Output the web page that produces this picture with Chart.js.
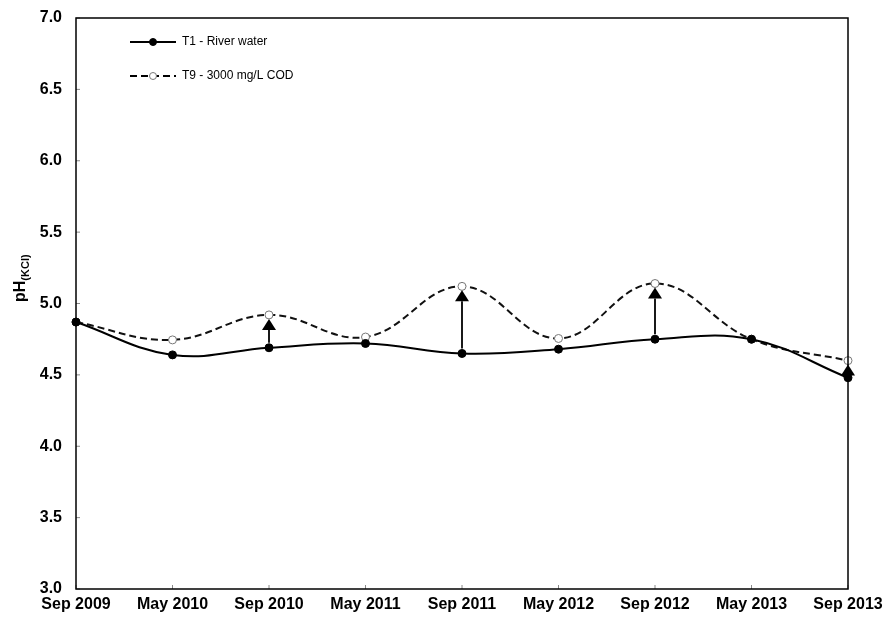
<!DOCTYPE html>
<html>
<head>
<meta charset="utf-8">
<script src="https://cdn.jsdelivr.net/npm/chart.js@4.4.1/dist/chart.umd.min.js"></script>
<style>
  html, body { margin: 0; padding: 0; background: #fff; }
  #wrap { width: 884px; height: 617px; position: relative; }
</style>
</head>
<body>
<div id="wrap"><canvas id="phChart"></canvas></div>
<script>
const labels = ['Sep 2009', 'May 2010', 'Sep 2010', 'May 2011', 'Sep 2011', 'May 2012', 'Sep 2012', 'May 2013', 'Sep 2013'];
const riverWater = [4.87, 4.64, 4.69, 4.72, 4.65, 4.68, 4.75, 4.75, 4.48];
const cod3000 = [4.87, 4.745, 4.92, 4.765, 5.12, 4.755, 5.14, 4.75, 4.60];
// categories where an arrow marks the rise from T1 to T9
const arrowAt = ['Sep 2010', 'Sep 2011', 'Sep 2012', 'Sep 2013'];
const yTicks = [3.0, 3.5, 4.0, 4.5, 5.0, 5.5, 6.0, 6.5, 7.0];

const FONT = 'Arial, "Liberation Sans", sans-serif';

// box, inner ticks, arrows, legend and axis title
const decorations = {
    id: 'decorations',
    afterDatasetsDraw(chart) {
        const { ctx, chartArea: a, scales } = chart;
        const x = scales.x, y = scales.y;
        ctx.save();

        // inner ticks
        ctx.strokeStyle = '#888';
        ctx.lineWidth = 1;
        yTicks.forEach(v => {
            const py = y.getPixelForValue(v);
            ctx.beginPath(); ctx.moveTo(a.left, py); ctx.lineTo(a.left + 4, py); ctx.stroke();
        });
        labels.forEach((l, i) => {
            const px = x.getPixelForValue(i);
            ctx.beginPath(); ctx.moveTo(px, a.bottom); ctx.lineTo(px, a.bottom - 4); ctx.stroke();
        });

        // frame
        ctx.strokeStyle = '#000';
        ctx.lineWidth = 1.5;
        ctx.strokeRect(a.left, a.top, a.right - a.left, a.bottom - a.top);

        // arrows from T1 up to T9
        ctx.fillStyle = '#000';
        arrowAt.forEach(l => {
            const i = labels.indexOf(l);
            const px = x.getPixelForValue(i);
            const y1 = y.getPixelForValue(riverWater[i]) - 5;
            const tip = y.getPixelForValue(cod3000[i]) + 4;
            const base = tip + 11;
            ctx.lineWidth = 1.8;
            ctx.beginPath(); ctx.moveTo(px, y1); ctx.lineTo(px, base); ctx.stroke();
            ctx.beginPath();
            ctx.moveTo(px, tip); ctx.lineTo(px - 7, base); ctx.lineTo(px + 7, base);
            ctx.closePath(); ctx.fill();
        });

        // legend
        const items = [
            { text: 'T1 - River water', ds: chart.data.datasets[0], y: 42 },
            { text: 'T9 - 3000 mg/L COD', ds: chart.data.datasets[1], y: 76 }
        ];
        ctx.font = '12px ' + FONT;
        ctx.textBaseline = 'middle';
        ctx.textAlign = 'left';
        items.forEach(it => {
            ctx.strokeStyle = '#000';
            ctx.lineWidth = 2;
            ctx.setLineDash(it.ds.borderDash || []);
            ctx.beginPath(); ctx.moveTo(130, it.y); ctx.lineTo(176, it.y); ctx.stroke();
            ctx.setLineDash([]);
            ctx.beginPath(); ctx.arc(153, it.y, 3.5, 0, Math.PI * 2);
            ctx.fillStyle = it.ds.pointBackgroundColor; ctx.fill();
            ctx.lineWidth = 1; ctx.strokeStyle = it.ds.pointBorderColor; ctx.stroke();
            ctx.fillStyle = '#000';
            ctx.fillText(it.text, 182, it.y);
        });

        // y axis title pH(KCl)
        ctx.translate(19, 302);
        ctx.rotate(-Math.PI / 2);
        ctx.textAlign = 'left';
        ctx.textBaseline = 'alphabetic';
        ctx.font = 'bold 16px ' + FONT;
        ctx.fillText('pH', 0, 6);
        const w = ctx.measureText('pH').width;
        ctx.font = 'bold 11px ' + FONT;
        ctx.fillText('(KCl)', w, 10);
        ctx.restore();
    }
};

new Chart(document.getElementById('phChart'), {
    type: 'line',
    data: {
        labels: labels,
        datasets: [
            {
                label: 'T1 - River water',
                data: riverWater,
                borderColor: '#000',
                borderWidth: 2,
                tension: 0.4,
                pointRadius: 4,
                pointBackgroundColor: '#000',
                pointBorderColor: '#000',
                pointBorderWidth: 1
            },
            {
                label: 'T9 - 3000 mg/L COD',
                data: cod3000,
                borderColor: '#111',
                borderWidth: 2,
                borderDash: [7, 4],
                tension: 0.4,
                pointRadius: 4,
                pointBackgroundColor: '#fff',
                pointBorderColor: '#777',
                pointBorderWidth: 1
            }
        ]
    },
    options: {
        responsive: true,
        maintainAspectRatio: false,
        animation: false,
        clip: false,
        layout: { padding: { top: 18, right: 36, left: 0, bottom: 0 } },
        plugins: { legend: { display: false }, tooltip: { enabled: false } },
        scales: {
            x: {
                offset: false,
                grid: { display: false, drawTicks: false },
                border: { display: false },
                ticks: {
                    color: '#000',
                    font: { family: FONT, size: 16, weight: 'bold' },
                    padding: 6,
                    maxRotation: 0,
                    autoSkip: false
                },
                afterFit(scale) {
                    scale.height = 28;
                    scale.paddingLeft = 0;
                    scale.paddingRight = 0;
                }
            },
            y: {
                min: 3,
                max: 7,
                grid: { display: false, drawTicks: false },
                border: { display: false },
                ticks: {
                    stepSize: 0.5,
                    color: '#000',
                    font: { family: FONT, size: 16, weight: 'bold' },
                    padding: 14,
                    callback: v => v.toFixed(1)
                },
                afterFit(scale) {
                    scale.width = 76;
                    scale.paddingTop = 0;
                    scale.paddingBottom = 0;
                }
            }
        }
    },
    plugins: [decorations]
});
</script>
</body>
</html>
